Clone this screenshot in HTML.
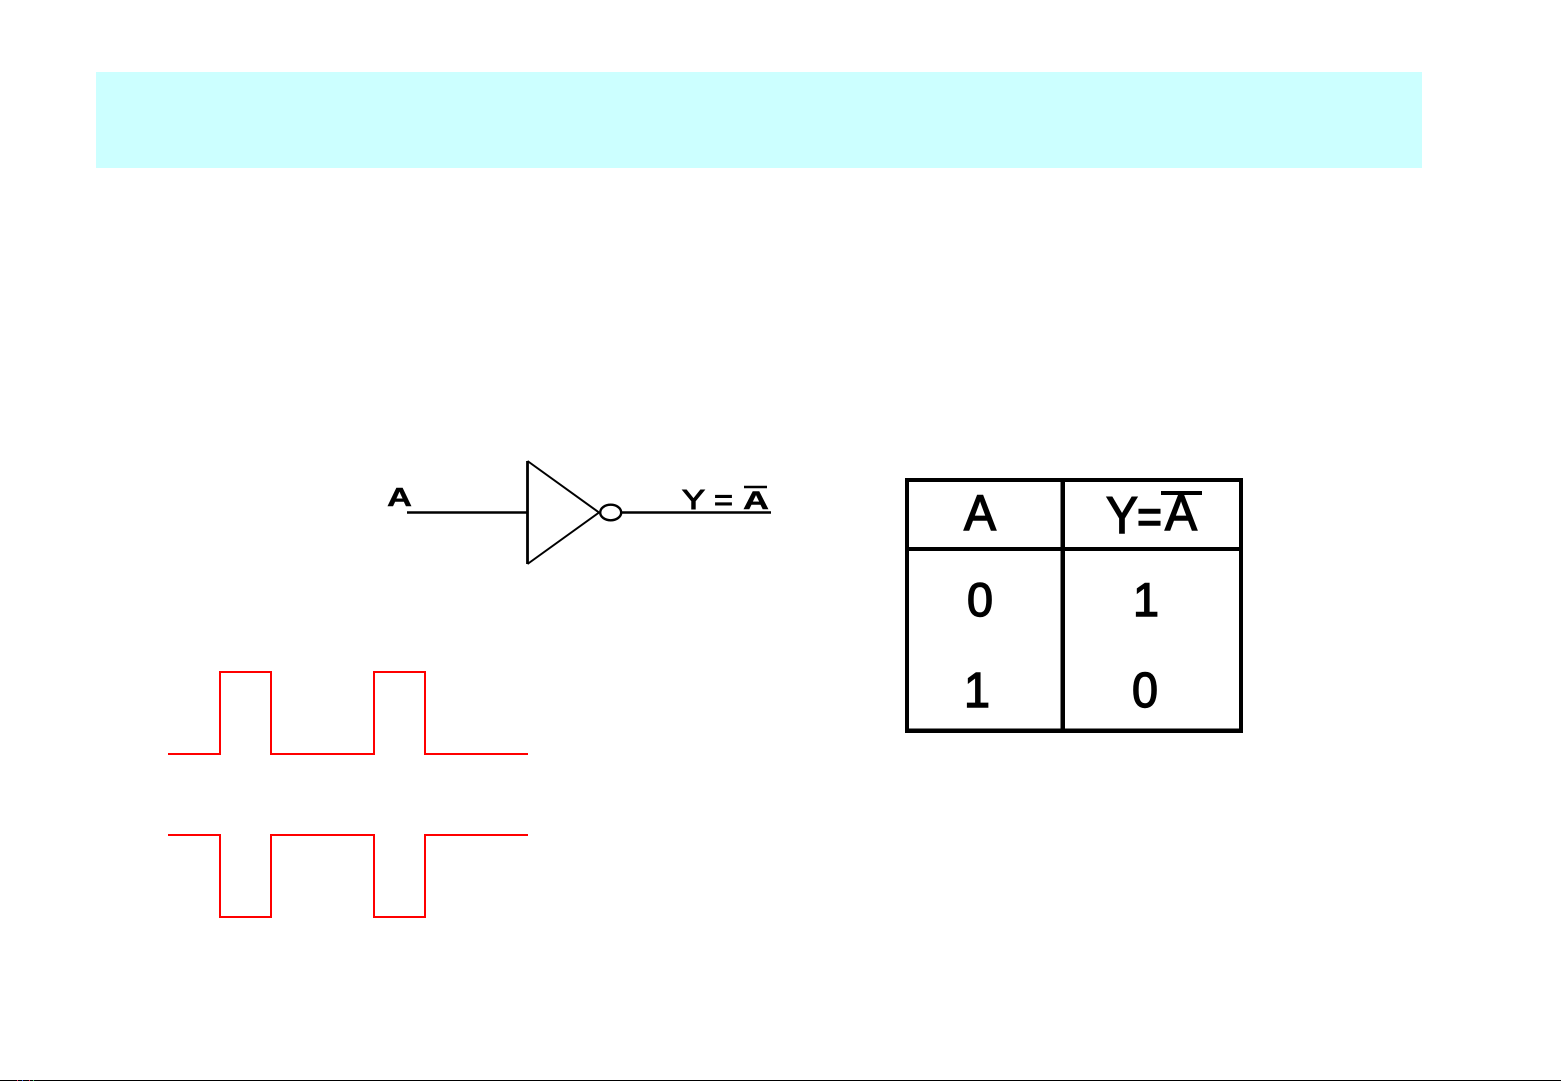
<!DOCTYPE html>
<html>
<head>
<meta charset="utf-8">
<title>NOT gate</title>
<style>
html,body{margin:0;padding:0;background:#fff;width:1561px;height:1081px;overflow:hidden}
svg{display:block;position:absolute;left:0;top:0}
text{font-family:"Liberation Sans",sans-serif;fill:#000}
</style>
</head>
<body>
<svg width="1561" height="1081" viewBox="0 0 1561 1081" xmlns="http://www.w3.org/2000/svg">
  <rect x="96" y="72" width="1326" height="96" fill="#ccffff"/>

  <!-- inverter -->
  <g fill="none" stroke="#000" stroke-width="2.400">
    <path d="M407 512.500H527.500"/>
    <path d="M527.500 461V564" stroke-width="2.800"/>
    <path d="M527.500 461L599 512.500L527.500 564" stroke-width="2"/>
    <ellipse cx="610.700" cy="512.500" rx="10.500" ry="7.800"/>
    <path d="M622 512.500H771"/>
    <path d="M744 487H767" stroke-width="2.500"/>
  </g>
  <g font-weight="700">
    <text x="387" y="506" font-size="26" textLength="25" lengthAdjust="spacingAndGlyphs" stroke="#000" stroke-width=".4">A</text>
    <text x="682" y="509" font-size="28" textLength="23" lengthAdjust="spacingAndGlyphs" font-weight="400" stroke="#000" stroke-width="1">Y</text>
    <text x="714" y="510" font-size="30" textLength="19" lengthAdjust="spacingAndGlyphs" font-weight="400" stroke="#000" stroke-width="1">=</text>
    <text x="743" y="509" font-size="25" textLength="26" lengthAdjust="spacingAndGlyphs" stroke="#000" stroke-width=".4">A</text>
  </g>

  <!-- truth table -->
  <g fill="#000">
    <rect x="905" y="478" width="338" height="4"/>
    <rect x="905" y="728.500" width="338" height="4.500"/>
    <rect x="905" y="478" width="4" height="255"/>
    <rect x="1239" y="478" width="4" height="255"/>
    <rect x="1060.500" y="478" width="4.500" height="255"/>
    <rect x="905" y="547" width="338" height="4"/>
    <rect x="1161" y="491" width="41" height="4"/>
  </g>
  <g font-size="47" stroke="#000" stroke-width="1.400">
    <text x="964" y="530" font-size="50" textLength="32" lengthAdjust="spacingAndGlyphs">A</text>
    <text x="1106" y="533" font-size="52" textLength="32" lengthAdjust="spacingAndGlyphs">Y</text>
    <text x="1137" y="533" font-size="48" textLength="25" lengthAdjust="spacingAndGlyphs">=</text>
    <text x="1165" y="530" font-size="50" textLength="32" lengthAdjust="spacingAndGlyphs">A</text>
    <text x="967" y="616" textLength="26" lengthAdjust="spacingAndGlyphs">0</text>
    <text x="1133" y="616" textLength="26" lengthAdjust="spacingAndGlyphs">1</text>
    <text x="964" y="707" font-size="49" textLength="26" lengthAdjust="spacingAndGlyphs">1</text>
    <text x="1132" y="707" font-size="49" textLength="26" lengthAdjust="spacingAndGlyphs">0</text>
  </g>

  <!-- waveforms -->
  <g fill="none" stroke="#ff0000" stroke-width="2">
    <path d="M168 754H220V672H271V754H374V672H425V754H528"/>
    <path d="M168 835H220V917H271V835H374V917H425V835H528"/>
  </g>

  <!-- bottom edge -->
  <rect x="0" y="1080" width="1561" height="1" fill="#000"/>
  <rect x="17" y="1080" width="1" height="1" fill="#ff3366"/>
  <rect x="22" y="1080" width="1" height="1" fill="#3366ff"/>
  <rect x="29" y="1080" width="1" height="1" fill="#ff3366"/>
  <rect x="33" y="1080" width="1" height="1" fill="#33cc66"/>
</svg>
</body>
</html>
